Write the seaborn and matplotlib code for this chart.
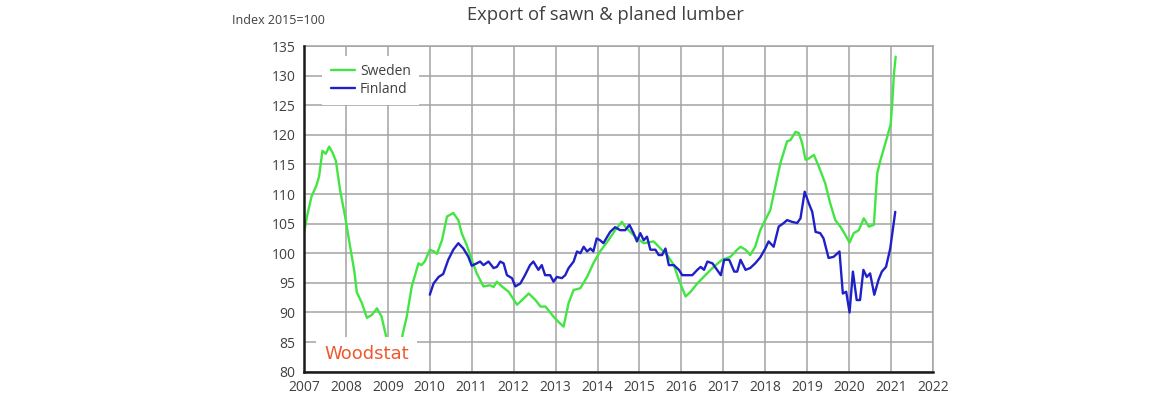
import matplotlib
matplotlib.use("Agg")
import matplotlib.pyplot as plt
import seaborn as sns
import pandas as pd

# ---------------- data ----------------
sweden_t = [2007.00, 2007.08, 2007.18, 2007.30, 2007.36, 2007.44, 2007.52, 2007.60, 2007.68, 2007.76,
            2007.86, 2007.98, 2008.10, 2008.20, 2008.26, 2008.38, 2008.50, 2008.62, 2008.74, 2008.85,
            2008.97, 2009.08, 2009.22, 2009.33, 2009.45, 2009.57, 2009.73, 2009.80, 2009.88, 2010.00,
            2010.10, 2010.17, 2010.29, 2010.41, 2010.56, 2010.68, 2010.76, 2010.88, 2011.00, 2011.12,
            2011.28, 2011.44, 2011.52, 2011.60, 2011.72, 2011.88, 2012.08, 2012.20, 2012.36, 2012.52,
            2012.64, 2012.76, 2012.95, 2013.07, 2013.19, 2013.31, 2013.43, 2013.59, 2013.75, 2013.90,
            2014.06, 2014.26, 2014.42, 2014.58, 2014.66, 2014.74, 2014.90, 2015.10, 2015.34, 2015.50,
            2015.66, 2015.82, 2015.94, 2016.10, 2016.22, 2016.38, 2016.57, 2016.77, 2016.97, 2017.17,
            2017.33, 2017.41, 2017.53, 2017.64, 2017.76, 2017.88, 2018.00, 2018.12, 2018.24, 2018.36,
            2018.52, 2018.60, 2018.72, 2018.80, 2018.88, 2018.96, 2019.04, 2019.16, 2019.28, 2019.43,
            2019.55, 2019.67, 2019.79, 2019.91, 2020.01, 2020.11, 2020.23, 2020.35, 2020.47, 2020.59,
            2020.67, 2020.75, 2020.91, 2020.99, 2021.03, 2021.07, 2021.11]
sweden_v = [103.4, 106.5, 109.6, 111.5, 113.0, 117.3, 116.8, 118.0, 117.0, 115.6,
            110.7, 106.2, 101.1, 97.0, 93.4, 91.6, 89.1, 89.6, 90.7, 89.3,
            85.6, 82.8, 82.6, 85.6, 89.3, 94.4, 98.3, 98.0, 98.6, 100.6,
            100.3, 99.9, 102.2, 106.2, 106.8, 105.6, 103.4, 101.4, 98.9, 96.6,
            94.4, 94.6, 94.3, 95.2, 94.4, 93.5, 91.3, 92.1, 93.2, 92.1,
            91.0, 91.0, 89.3, 88.4, 87.6, 91.6, 93.8, 94.1, 96.0, 98.3,
            100.3, 102.2, 103.9, 105.3, 104.5, 103.9, 102.8, 101.7, 102.0, 100.8,
            99.7, 98.0, 95.5, 92.7, 93.5, 94.9, 96.3, 97.7, 98.9, 99.4,
            100.6, 101.1, 100.6, 99.7, 101.1, 103.9, 105.6, 107.3, 111.3, 115.2,
            118.9, 119.1, 120.5, 120.3, 118.6, 115.8, 116.0, 116.6, 114.6, 111.8,
            108.4, 105.6, 104.5, 103.1, 101.8, 103.4, 103.9, 105.9, 104.5, 104.8,
            113.5, 115.8, 119.7, 121.8, 125.5, 130.4, 133.2]

finland_t = [2010.00, 2010.09, 2010.21, 2010.32, 2010.44, 2010.56, 2010.68, 2010.80, 2010.92, 2011.00,
             2011.12, 2011.20, 2011.28, 2011.40, 2011.52, 2011.60, 2011.68, 2011.76, 2011.84, 2011.96,
             2012.04, 2012.16, 2012.27, 2012.39, 2012.47, 2012.59, 2012.67, 2012.75, 2012.87, 2012.95,
             2013.03, 2013.15, 2013.23, 2013.31, 2013.43, 2013.51, 2013.59, 2013.67, 2013.75, 2013.83,
             2013.90, 2013.98, 2014.06, 2014.14, 2014.30, 2014.42, 2014.54, 2014.66, 2014.76, 2014.86,
             2014.94, 2015.02, 2015.10, 2015.18, 2015.26, 2015.38, 2015.46, 2015.54, 2015.62, 2015.70,
             2015.82, 2015.94, 2016.02, 2016.14, 2016.26, 2016.38, 2016.46, 2016.54, 2016.62, 2016.74,
             2016.82, 2016.94, 2017.02, 2017.14, 2017.26, 2017.33, 2017.41, 2017.53, 2017.64, 2017.76,
             2017.88, 2018.00, 2018.08, 2018.20, 2018.32, 2018.44, 2018.52, 2018.64, 2018.76, 2018.84,
             2018.94, 2019.04, 2019.12, 2019.20, 2019.31, 2019.39, 2019.51, 2019.63, 2019.77, 2019.85,
             2019.93, 2020.01, 2020.09, 2020.18, 2020.26, 2020.34, 2020.42, 2020.50, 2020.60, 2020.70,
             2020.78, 2020.88, 2020.98, 2021.10]
finland_v = [93.0, 94.9, 96.0, 96.5, 98.9, 100.6, 101.7, 100.8, 99.4, 97.9,
             98.3, 98.6, 98.0, 98.6, 97.5, 97.7, 98.6, 98.3, 96.3, 95.8,
             94.4, 94.9, 96.3, 98.0, 98.6, 97.2, 98.0, 96.3, 96.3, 95.2,
             96.0, 95.8, 96.3, 97.5, 98.6, 100.3, 100.0, 101.1, 100.3, 100.8,
             100.3, 102.5, 102.2, 101.7, 103.6, 104.4, 103.9, 103.9, 104.8, 103.4,
             102.0, 103.4, 102.2, 102.8, 100.6, 100.6, 99.7, 99.7, 100.8, 98.0,
             98.0, 97.2, 96.3, 96.3, 96.3, 97.2, 97.7, 97.2, 98.6, 98.3,
             97.5, 96.3, 98.9, 98.9, 96.9, 96.9, 98.9, 97.2, 97.5, 98.3,
             99.3, 100.8, 102.0, 101.1, 104.5, 105.1, 105.6, 105.3, 105.1, 105.9,
             110.4, 108.4, 107.0, 103.6, 103.4, 102.5, 99.2, 99.4, 100.3, 93.2,
             93.5, 90.0, 96.9, 92.1, 92.1, 97.2, 96.0, 96.6, 93.0, 95.5,
             96.9, 97.7, 100.8, 107.0]

series_names = ["Sweden", "Finland"]
series_colors = ["#42e542", "#2020c8"]
x_ticks = list(range(2007, 2023))
y_ticks = list(range(80, 136, 5))
title_text = "Export of sawn & planed lumber"
ylabel_text = "Index 2015=100"
logo_text = "Woodstat"

df = pd.concat([
    pd.DataFrame({"year": sweden_t, "index": sweden_v, "country": series_names[0]}),
    pd.DataFrame({"year": finland_t, "index": finland_v, "country": series_names[1]}),
], ignore_index=True)

# ---------------- figure ----------------
sns.set_style("white")
plt.rcParams["font.family"] = ["Open Sans", "DejaVu Sans"]

W, H = 1175, 396
fig = plt.figure(figsize=(W / 100, H / 100), dpi=100)
x0, x1, ytop, ybot = 304, 933, 46, 371.7
ax = fig.add_axes([x0 / W, 1 - ybot / H, (x1 - x0) / W, (ybot - ytop) / H])

sns.lineplot(data=df, x="year", y="index", hue="country",
             palette=dict(zip(series_names, series_colors)),
             estimator=None, sort=False, linewidth=1.7, ax=ax, zorder=3)

ax.set_xlim(x_ticks[0], x_ticks[-1])
ax.set_ylim(y_ticks[0], y_ticks[-1])
ax.set_xticks(x_ticks)
ax.set_yticks(y_ticks)
ax.set_xlabel("")
ax.set_ylabel("")

ax.grid(True, color="#a3a3a3", linewidth=1.1, zorder=0)
ax.set_axisbelow(True)
for side in ["top", "right"]:
    ax.spines[side].set_color("#a3a3a3")
    ax.spines[side].set_linewidth(1.1)
for side in ["left", "bottom"]:
    ax.spines[side].set_color("#1a1a1a")
    ax.spines[side].set_linewidth(1.8)
    ax.spines[side].set_zorder(6)

ax.tick_params(axis="both", direction="out", length=4, width=1, color="#404040",
               labelsize=10, labelcolor="#404040", pad=2)

handles, labels = ax.get_legend_handles_labels()
leg = ax.legend(handles, labels, loc="upper left", bbox_to_anchor=(0.018, 0.992),
                frameon=True, facecolor="white", edgecolor="none", framealpha=1,
                fancybox=False, fontsize=10, handlelength=1.75, handletextpad=0.35,
                borderpad=0.6, labelspacing=0.2, labelcolor="#404040")
leg.set_zorder(8)

ax.text(0.100, 0.054, logo_text, transform=ax.transAxes, ha="center", va="center",
        fontsize=13, color="#ee5a30", family="DejaVu Sans", fontweight="normal",
        bbox=dict(facecolor="white", edgecolor="none", boxstyle="square,pad=0.45"),
        zorder=10)

fig.text(605 / W, 1 - 15 / H, title_text, ha="center", va="center",
         fontsize=13.2, color="#404040")
fig.text(232 / W, 1 - 21 / H, ylabel_text, ha="left", va="center",
         fontsize=9, color="#404040")

fig.savefig("out.png", dpi=100)
